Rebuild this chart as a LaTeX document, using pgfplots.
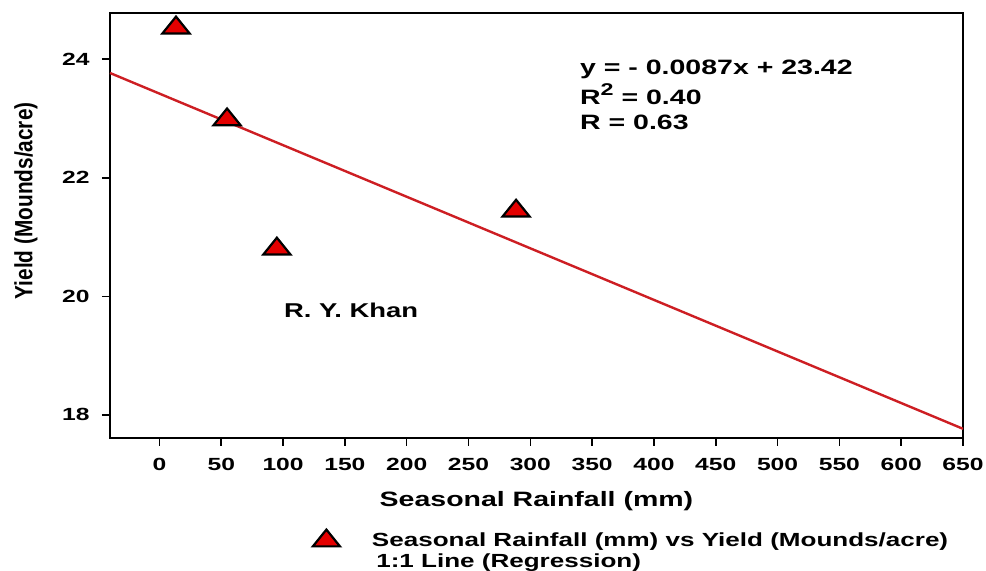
\documentclass[border=0pt]{standalone}
\usepackage{pgfplots}
\pgfplotsset{compat=1.18}
\usepackage{fontspec}
\setmainfont{Liberation Sans}
\newcommand{\hs}[1]{\scalebox{1.37}[1]{#1}}
\newcommand{\ths}[1]{\scalebox{1.4}[1]{#1}}
\definecolor{tri}{RGB}{228,0,0}
\definecolor{reg}{RGB}{205,30,35}
\begin{document}
\begin{tikzpicture}
\begin{axis}[
  scale only axis, width=426.5pt, height=212.5pt,
  xmin=-40, xmax=650, ymin=17.61, ymax=24.78,
  xtick={0,50,...,650}, ytick={18,20,22,24},
  clip=false,
  axis line style={line width=1pt},
  tick style={black, line width=0.8pt},
  tick align=outside, tick pos=left,
  major tick length=4pt,
  xticklabel={\ths{\pgfmathprintnumber[assume math mode=true]{\tick}}},
  yticklabel={\ths{\pgfmathprintnumber[assume math mode=true]{\tick}}},
  ticklabel style={font=\bfseries\fontsize{8.8}{10}\selectfont, inner sep=0pt},
  xticklabel style={anchor=north, yshift=-6pt},
  yticklabel style={anchor=east, xshift=-6pt},
  every axis x label/.style={at={(0.5,-0.125)}, anchor=north, inner sep=0pt, font=\bfseries\fontsize{10.4}{12}\selectfont},
  every axis y label/.style={at={(-0.0985,0.558)}, rotate=90, anchor=center, inner sep=0pt, font=\bfseries\fontsize{10.4}{12}\selectfont},
  xlabel={\hs{Seasonal Rainfall (mm)}},
  ylabel={\scalebox{1}[1.2]{Yield (Mounds/acre)}},
  legend style={draw=none, fill=none, at={(0.2262,-0.2024)}, anchor=north west,
    font=\bfseries\fontsize{9.5}{10}\selectfont, row sep=-1.5pt, cells={anchor=west},
    /tikz/every odd column/.append style={column sep=14pt}},
]
\addplot[reg, line width=1.2pt, forget plot] coordinates {(-40,23.768) (650,17.765)};
\addplot[only marks, mark=triangle*, mark size=5.6pt,
  mark options={fill=tri, draw=black, line width=1.1pt, xscale=1.4}]
  coordinates {(13.4,24.53) (54.7,22.98) (95,20.80) (288.5,21.44)};
\addlegendentry{\hs{Seasonal Rainfall (mm) vs Yield (Mounds/acre)}}
\addlegendimage{empty legend}
\addlegendentry{\hs{\,1:1 Line (Regression)}}
\node[anchor=base west, inner sep=0pt, font=\bfseries\fontsize{10.4}{12}\selectfont] at (axis cs:340,23.74) {\hs{y = - 0.0087x + 23.42}};
\node[anchor=base west, inner sep=0pt, font=\bfseries\fontsize{10.4}{12}\selectfont] at (axis cs:340,23.244) {\hs{R\raisebox{0.42em}{\fontsize{8.5}{8.5}\selectfont 2} = 0.40}};
\node[anchor=base west, inner sep=0pt, font=\bfseries\fontsize{10.4}{12}\selectfont] at (axis cs:340,22.822) {\hs{R = 0.63}};
\node[anchor=center, inner sep=0pt, font=\bfseries\fontsize{10}{12}\selectfont] at (axis cs:155,19.77) {\hs{R. Y. Khan}};
\coordinate (bl) at (rel axis cs:0,0);
\end{axis}
\pgfresetboundingbox
\path[use as bounding box] (bl) ++(-55pt,-66.5pt) rectangle ++(493pt,285.5pt);
\end{tikzpicture}
\end{document}
